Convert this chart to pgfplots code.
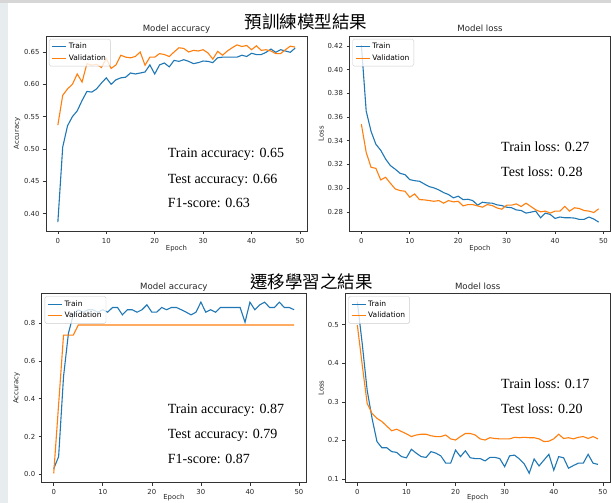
\documentclass[border=0pt]{standalone}
\usepackage{fontspec}
\setmainfont{Liberation Serif}
\newfontfamily\dv{DejaVu Sans}
\newfontfamily\cjk{Noto Sans CJK TC}
\usepackage{pgfplots}
\usepackage{pgfplotstable}
\pgfplotsset{compat=1.18}

\definecolor{mplblue}{HTML}{1F77B4}
\definecolor{mplorange}{HTML}{FF7F0E}
\definecolor{sidebar}{RGB}{231,236,239}
\definecolor{topbar}{RGB}{214,214,214}

% epoch, train, validation
\pgfplotstableread{
e tr va
0 0.387 0.537
1 0.503 0.583
2 0.536 0.593
3 0.550 0.600
4 0.559 0.616
5 0.575 0.6035
6 0.589 0.632
7 0.588 0.6295
8 0.593 0.631
9 0.602 0.626
10 0.610 0.640
11 0.600 0.6245
12 0.607 0.630
13 0.610 0.645
14 0.611 0.642
15 0.6175 0.641
16 0.616 0.643
17 0.6175 0.650
18 0.619 0.6295
19 0.630 0.642
20 0.616 0.642
21 0.630 0.6475
22 0.633 0.646
23 0.627 0.643
24 0.637 0.650
25 0.6355 0.6565
26 0.638 0.6555
27 0.6355 0.650
28 0.632 0.6525
29 0.6335 0.6515
30 0.636 0.6535
31 0.6355 0.6485
32 0.6335 0.639
33 0.641 0.651
34 0.642 0.645
35 0.642 0.6515
36 0.642 0.6565
37 0.642 0.661
38 0.645 0.6585
39 0.643 0.660
40 0.648 0.6535
41 0.646 0.6595
42 0.646 0.6525
43 0.6495 0.6535
44 0.6545 0.6515
45 0.6495 0.6475
46 0.6535 0.6475
47 0.6515 0.6535
48 0.6495 0.659
49 0.656 0.6575
}\preacc

\pgfplotstableread{
e tr va
0 0.421 0.354
1 0.365 0.3302
2 0.348 0.3176
3 0.337 0.3167
4 0.332 0.3069
5 0.3246 0.3092
6 0.319 0.3041
7 0.316 0.2993
8 0.3125 0.2979
9 0.3114 0.2974
10 0.3072 0.2923
11 0.3063 0.2951
12 0.3058 0.2903
13 0.3035 0.2901
14 0.3013 0.2895
15 0.3002 0.2889
16 0.2985 0.2895
17 0.2962 0.2873
18 0.2946 0.2895
19 0.2918 0.2884
20 0.2932 0.2889
21 0.2903 0.2850
22 0.2906 0.2861
23 0.2895 0.2861
24 0.2856 0.2850
25 0.2881 0.2839
26 0.2875 0.2861
27 0.2873 0.2853
28 0.2859 0.2833
29 0.2853 0.2822
30 0.2839 0.2856
31 0.2835 0.2856
32 0.2816 0.2867
33 0.2811 0.2845
34 0.2789 0.2873
35 0.2797 0.2845
36 0.2806 0.2817
37 0.2750 0.2800
38 0.2789 0.2806
39 0.2778 0.2789
40 0.2744 0.2806
41 0.2756 0.2806
42 0.2750 0.2845
43 0.2750 0.2806
44 0.2747 0.2834
45 0.2736 0.2828
46 0.2736 0.2811
47 0.2756 0.2806
48 0.2739 0.2794
49 0.2713 0.2825
}\preloss

\pgfplotstableread{
e tr va
0 0.030 0.005
1 0.094 0.370
2 0.517 0.737
3 0.747 0.737
4 0.845 0.737
5 0.870 0.790
6 0.858 0.790
7 0.871 0.790
8 0.871 0.790
9 0.858 0.790
10 0.871 0.790
11 0.858 0.790
12 0.883 0.790
13 0.883 0.790
14 0.844 0.790
15 0.871 0.790
16 0.871 0.790
17 0.858 0.790
18 0.871 0.790
19 0.897 0.790
20 0.858 0.790
21 0.858 0.790
22 0.883 0.790
23 0.871 0.790
24 0.883 0.790
25 0.883 0.790
26 0.871 0.790
27 0.858 0.790
28 0.844 0.790
29 0.858 0.790
30 0.911 0.790
31 0.858 0.790
32 0.871 0.790
33 0.858 0.790
34 0.883 0.790
35 0.883 0.790
36 0.883 0.790
37 0.883 0.790
38 0.883 0.790
39 0.805 0.790
40 0.911 0.790
41 0.871 0.790
42 0.897 0.790
43 0.911 0.790
44 0.883 0.790
45 0.883 0.790
46 0.911 0.790
47 0.883 0.790
48 0.883 0.790
49 0.871 0.790
}\tlacc

\pgfplotstableread{
e tr va
0 0.559 0.499
1 0.450 0.395
2 0.330 0.296
3 0.257 0.270
4 0.197 0.257
5 0.181 0.249
6 0.181 0.237
7 0.171 0.225
8 0.169 0.229
9 0.158 0.223
10 0.155 0.217
11 0.177 0.210
12 0.167 0.214
13 0.158 0.216
14 0.156 0.216
15 0.171 0.212
16 0.167 0.210
17 0.160 0.210
18 0.141 0.214
19 0.141 0.204
20 0.175 0.201
21 0.158 0.210
22 0.173 0.218
23 0.155 0.218
24 0.153 0.214
25 0.153 0.204
26 0.147 0.201
27 0.156 0.207
28 0.156 0.205
29 0.153 0.204
30 0.132 0.204
31 0.160 0.204
32 0.162 0.208
33 0.152 0.207
34 0.139 0.208
35 0.115 0.207
36 0.152 0.207
37 0.134 0.204
38 0.149 0.197
39 0.164 0.198
40 0.123 0.204
41 0.158 0.216
42 0.155 0.205
43 0.128 0.207
44 0.135 0.204
45 0.141 0.208
46 0.141 0.210
47 0.164 0.205
48 0.141 0.210
49 0.138 0.204
}\tlloss

\pgfplotsset{
  every axis title shift=0pt,
  mpl/.style={
    scale only axis,
    anchor=south west,
    xmin=-2.45, xmax=51.45,
    xtick={0,10,...,50},
    axis line style={black!80, line width=0.6pt},
    tick style={black!80, line width=0.6pt},
    tick align=outside,
    tick pos=left,
    major tick length=3pt,
    /pgf/number format/assume math mode=true,
    tick label style={font=\dv\fontsize{6.9}{8}\selectfont, text=black!85},
    xticklabel style={yshift=-0.5pt},
    xlabel={Epoch},
    every axis x label/.style={at={(axis description cs:0.5,0)}, anchor=center, yshift=-17.5pt,
      font=\dv\fontsize{6.9}{8}\selectfont, text=black!85},
    title style={font=\dv\fontsize{8.6}{10}\selectfont, text=black!85, at={(axis description cs:0.5,1)}, anchor=base, yshift=4.5pt},
    legend style={at={(axis description cs:0,1)}, anchor=north west, xshift=3pt, yshift=-3pt,
      draw=black!20, rounded corners=1.5pt, fill=white, fill opacity=0.8, text opacity=1, draw opacity=1,
      font=\dv\fontsize{7.5}{8.5}\selectfont, inner xsep=2.5pt, inner ysep=2pt, row sep=0.5pt},
    legend cell align=left,
    legend image code/.code={\draw[#1] (0pt,0pt) -- (14pt,0pt);},
    every axis plot/.append style={line width=1.1pt},
  },
  ylab/.style={every axis y label/.style={at={(axis description cs:#1,0.5)}, rotate=90, anchor=center,
      font=\dv\fontsize{6.9}{8}\selectfont, text=black!85}},
}

\newcommand{\note}[3]{\node[anchor=base west, inner sep=0pt, font=\fontsize{14}{16}\selectfont] at (#1pt,#2pt) {#3};}

\begin{document}
\begin{tikzpicture}[x=1pt,y=1pt]
\useasboundingbox (0,0) rectangle (611,503);
\clip (0,0) rectangle (611,503);
\fill[white] (0,0) rectangle (611,503);
\fill[sidebar] (0,0) rectangle (8,503);
\fill[topbar] (0,500) rectangle (611,503);

\node[font=\cjk\fontsize{17.5}{20}\selectfont] at (306,481.5) {預訓練模型結果};
\node[font=\cjk\fontsize{17.5}{20}\selectfont] at (311.5,221.5) {遷移學習之結果};

% pretrained: accuracy
\begin{axis}[mpl, at={(46pt,272pt)}, width=261pt, height=195pt,
  ymin=0.3733, ymax=0.6747, ytick={0.40,0.45,...,0.66},
  yticklabel style={/pgf/number format/.cd, fixed, fixed zerofill, precision=2},
  title={Model accuracy}, ylabel={Accuracy}, ylab=-0.111]
\addplot[mplblue] table[x=e, y=tr] {\preacc};
\addplot[mplorange] table[x=e, y=va] {\preacc};
\legend{Train, Validation}
\end{axis}

% pretrained: loss
\begin{axis}[mpl, at={(349.5pt,272pt)}, width=261pt, height=195pt,
  ymin=0.2638, ymax=0.4285, ytick={0.28,0.30,...,0.43},
  yticklabel style={/pgf/number format/.cd, fixed, fixed zerofill, precision=2},
  title={Model loss}, ylabel={Loss}, ylab=-0.109]
\addplot[mplblue] table[x=e, y=tr] {\preloss};
\addplot[mplorange] table[x=e, y=va] {\preloss};
\legend{Train, Validation}
\end{axis}

% transfer: accuracy
\begin{axis}[mpl, at={(41.7pt,20.3pt)}, width=264.4pt, height=189.4pt,
  ymin=-0.044, ymax=0.958, ytick={0,0.2,...,0.81},
  yticklabel style={/pgf/number format/.cd, fixed, fixed zerofill, precision=1},
  title={Model accuracy}, ylabel={Accuracy}, ylab=-0.095,
  title style={yshift=-0.8pt},
  every axis x label/.append style={yshift=3pt}]
\addplot[mplblue] table[x=e, y=tr] {\tlacc};
\addplot[mplorange] table[x=e, y=va] {\tlacc};
\legend{Train, Validation}
\end{axis}

% transfer: loss
\begin{axis}[mpl, at={(345.3pt,20.3pt)}, width=264.7pt, height=189.4pt,
  ymin=0.0905, ymax=0.581, ytick={0.1,0.2,...,0.51},
  yticklabel style={/pgf/number format/.cd, fixed, fixed zerofill, precision=1},
  title={Model loss}, ylabel={Loss}, ylab=-0.091,
  title style={yshift=-0.8pt},
  every axis x label/.append style={yshift=3pt}]
\addplot[mplblue] table[x=e, y=tr] {\tlloss};
\addplot[mplorange] table[x=e, y=va] {\tlloss};
\legend{Train, Validation}
\end{axis}

\note{167.7}{345}{Train accuracy: 0.65}
\note{167.7}{319.7}{Test accuracy: 0.66}
\note{167.7}{295}{F1-score: 0.63}
\note{501}{351.3}{Train loss: 0.27}
\note{501}{326.3}{Test loss: 0.28}
\note{167.7}{89.7}{Train accuracy: 0.87}
\note{167.7}{64}{Test accuracy: 0.79}
\note{167.7}{39}{F1-score: 0.87}
\note{501}{114.7}{Train loss: 0.17}
\note{501}{89.7}{Test loss: 0.20}
\end{tikzpicture}
\end{document}
